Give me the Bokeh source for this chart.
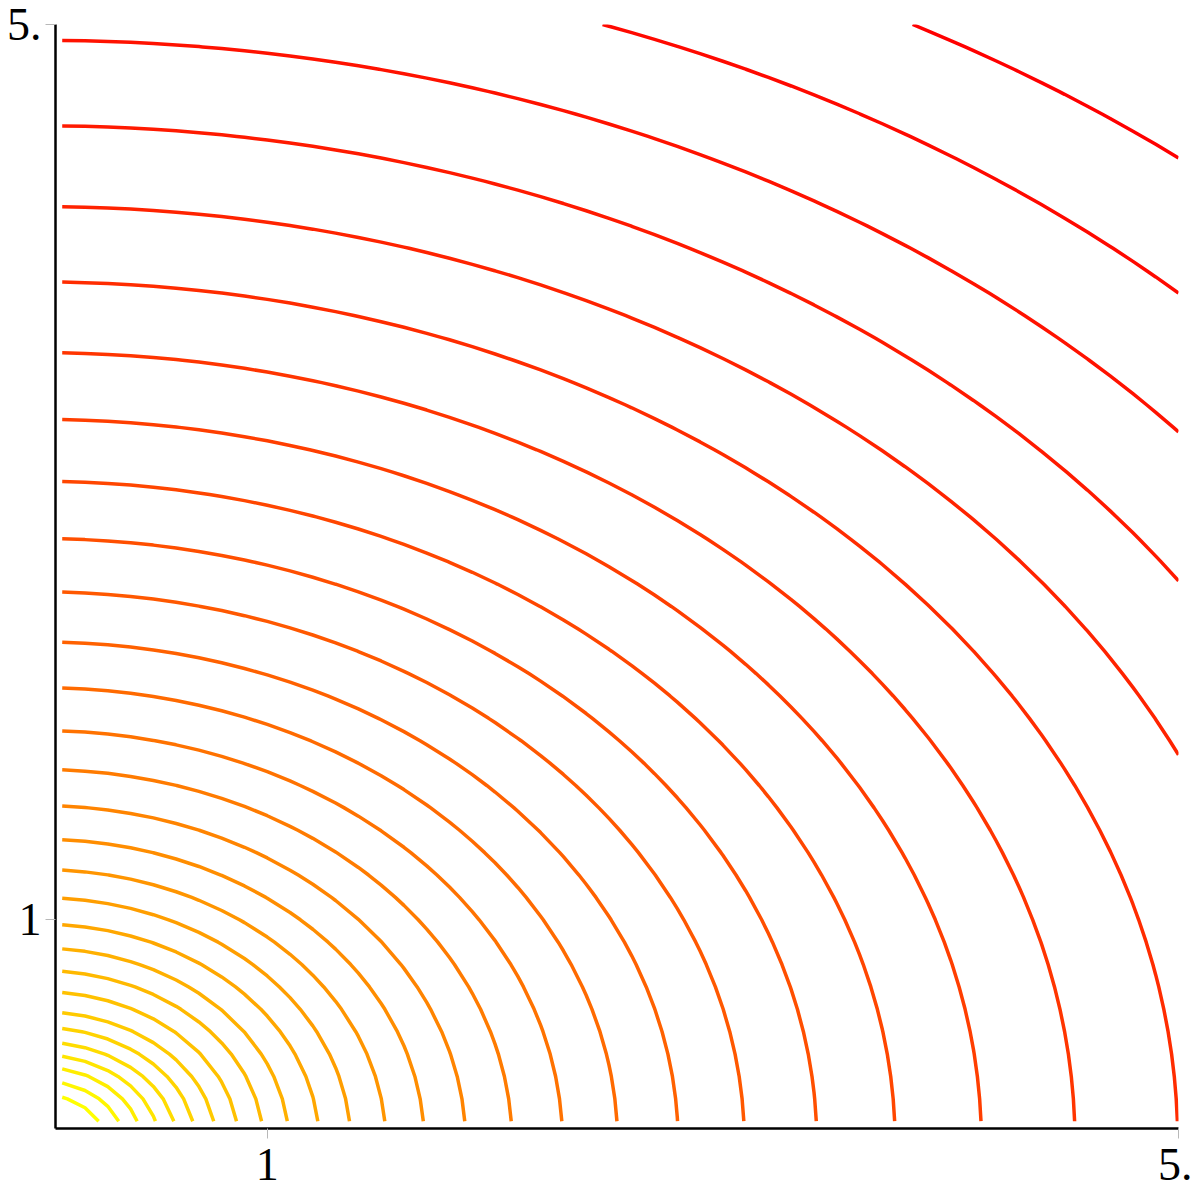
import numpy as np
from bokeh.plotting import figure
from bokeh.models import ColumnDataSource, Range1d, FixedTicker
from bokeh.embed import file_html
from bokeh.resources import INLINE

nan = float("nan")

# Contour lines, listed from the outermost (red) to the innermost (yellow).
left_y = [nan, nan, 4.929, 4.547, 4.186, 3.849, 3.533, 3.235, 2.958, 2.702,
          2.464, 2.240, 2.036, 1.844, 1.670, 1.508, 1.358, 1.222, 1.096, 0.978,
          0.870, 0.770, 0.675, 0.585, 0.514, 0.448, 0.390, 0.334, 0.271, 0.207]
bottom_x = [nan, nan, nan, nan, nan, 4.995, 4.544, 4.133, 3.754, 3.410,
            3.092, 2.801, 2.535, 2.293, 2.071, 1.867, 1.685, 1.516, 1.361, 1.222,
            1.088, 0.975, 0.865, 0.765, 0.673, 0.590, 0.509, 0.429, 0.348, 0.260]
top_x = [3.833, 2.472] + [nan] * 28
right_y = [4.404, 3.800, 3.180, 2.514, 1.737] + [nan] * 25

region_lo, region_hi = 0.1, 5.0      # sampled region of the contour plot
grid_n = 50                          # sample points per side
view_x = (0.0705, 5.0)
view_y = (0.0675, 5.0)
tick_values = [1, 5]
tick_labels = ["1", "5."]
color_start = (255, 0, 0)    # outermost
color_end = (255, 255, 0)    # innermost

grid = np.linspace(region_lo, region_hi, grid_n)
eps = 1e-9


def contour_path(p1, p2):
    (x1, y1), (x2, y2) = p1, p2
    A = np.array([[x1 * x1, y1 * y1], [x2 * x2, y2 * y2]])
    u, v = np.linalg.solve(A, np.array([1.0, 1.0]))
    pts = []
    for gx in grid:
        r = 1 - u * gx * gx
        if r >= -eps:
            gy = np.sqrt(max(r, 0) / v)
            if region_lo - 1e-6 <= gy <= region_hi + 1e-6:
                pts.append((gx, min(max(gy, region_lo), region_hi)))
    for gy in grid:
        r = 1 - v * gy * gy
        if r >= -eps:
            gx = np.sqrt(max(r, 0) / u)
            if region_lo - 1e-6 <= gx <= region_hi + 1e-6:
                pts.append((min(max(gx, region_lo), region_hi), gy))
    pts.sort(key=lambda q: -np.arctan2(q[1] * np.sqrt(v), q[0] * np.sqrt(u)))
    out = []
    for q in pts:
        if not out or abs(q[0] - out[-1][0]) + abs(q[1] - out[-1][1]) > 1e-7:
            out.append(q)
    return [q[0] for q in out], [q[1] for q in out]


n = len(left_y)
xs, ys, colors = [], [], []
for i in range(n):
    p1 = (region_lo, left_y[i]) if not np.isnan(left_y[i]) else (top_x[i], region_hi)
    p2 = (bottom_x[i], region_lo) if not np.isnan(bottom_x[i]) else (region_hi, right_y[i])
    cx, cy = contour_path(p1, p2)
    xs.append(cx)
    ys.append(cy)
    t = i / (n - 1)
    rgb = [round(a + (b - a) * t) for a, b in zip(color_start, color_end)]
    colors.append("#%02x%02x%02x" % tuple(rgb))

src = ColumnDataSource(dict(xs=xs, ys=ys, color=colors))

p = figure(frame_width=1123, frame_height=1104,
           x_range=Range1d(*view_x), y_range=Range1d(*view_y),
           output_backend="svg", toolbar_location=None,
           min_border_left=55, min_border_top=24, min_border_right=14,
           min_border_bottom=69, background_fill_color="white",
           border_fill_color="white")

p.multi_line(xs="xs", ys="ys", line_color="color", line_width=3.5, source=src)

p.grid.visible = False
p.outline_line_color = None
for ax in (p.xaxis, p.yaxis):
    ax.ticker = FixedTicker(ticks=tick_values)
    ax.major_label_overrides = {k: s for k, s in zip(tick_values, tick_labels)}
    ax.minor_tick_line_color = None
    ax.major_tick_in = 0
    ax.major_tick_out = 10
    ax.major_tick_line_color = "#b8b8b8"
    ax.major_tick_line_width = 1
    ax.axis_line_color = "black"
    ax.axis_line_width = 2.5
    ax.major_label_text_font = "Liberation Serif"
    ax.major_label_text_font_size = "46px"
    ax.major_label_text_color = "black"
p.xaxis.major_label_standoff = 10
p.yaxis.major_label_standoff = 4

open("out.html", "w").write(file_html(p, INLINE))
